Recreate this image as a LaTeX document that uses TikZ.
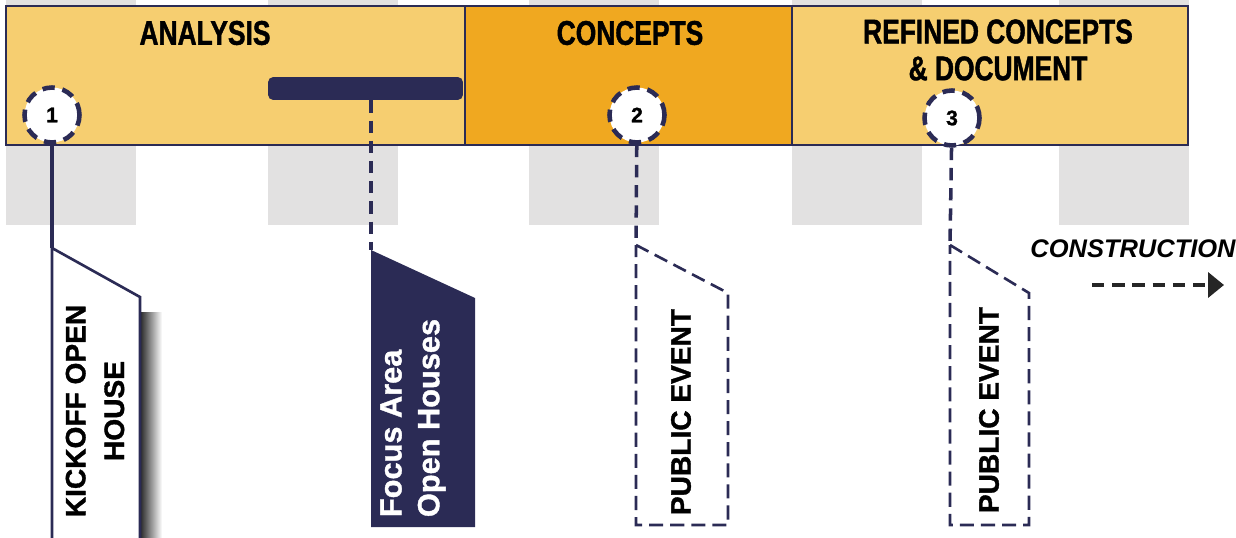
\documentclass[tikz,border=0pt]{standalone}
\usepackage{fontspec}
\setmainfont{Liberation Sans}[BoldFeatures={FakeBold=1.2}]
\newfontfamily\condfont{Liberation Sans}[FakeStretch=0.77, BoldFeatures={FakeBold=1.2}]
\usepackage{tikz}
\usetikzlibrary{arrows.meta, positioning}

\definecolor{sand}{RGB}{246,206,112}
\definecolor{amber}{RGB}{240,168,32}
\definecolor{navy}{RGB}{43,43,85}
\definecolor{fog}{RGB}{226,225,225}

\begin{document}
\begin{tikzpicture}[x=0.02cm, y=-0.02cm]
\tikzstyle{phase}=[font=\condfont\bfseries\fontsize{19.5}{21}\selectfont, align=center, text=black]
\tikzstyle{stop}=[circle, draw=navy, fill=white, line width=2.6pt, dash pattern=on 7pt off 4.5pt,
  minimum size=1.1cm, inner sep=0pt, font=\bfseries\fontsize{12}{13}\selectfont]
\tikzstyle{lead}=[navy, line width=2pt, dash pattern=on 7pt off 4.5pt]
\tikzstyle{edgeline}=[navy, line width=1.5pt, dash pattern=on 8pt off 4pt]
\tikzstyle{flagtext}=[rotate=90, font=\bfseries\fontsize{16}{22}\selectfont, align=center, inner sep=0pt]
\useasboundingbox (0,0) rectangle (1236,537);

% grey columns behind the band
\foreach \x in {6, 268, 529, 792, 1059}
  \fill[fog] (\x,0) rectangle ++(130,225);

% phase band
\fill[sand] (6,6) rectangle (465,145);
\fill[amber] (465,6) rectangle (792,145);
\fill[sand] (792,6) rectangle (1188,145);
\draw[navy, line width=1.1pt] (6,6) rectangle (1188,145);
\draw[navy, line width=1.1pt] (465,6) -- (465,145) (792,6) -- (792,145);

\node[phase] (analysis) at (205,33) {ANALYSIS};
\node[phase] (concepts) at (630,33) {CONCEPTS};
\node[phase] (refined) at (998,50) {REFINED CONCEPTS\\\& DOCUMENT};

\node[fill=navy, rounded corners=3pt, minimum width=3.9cm, minimum height=0.46cm, inner sep=0pt] (bar) at (365.5,88.5) {};

\node[stop] (c1) at (52,115) {1};
\node[stop] (c2) at (637,115) {2};
\node[stop] (c3) at (952,118) {3};

% flags
\coordinate (f1) at (52,248);
\coordinate (f2) at (371,250);
\coordinate (f3) at (636,245);
\coordinate (f4) at (950,245);

\shade[left color=black!85, right color=white] (140,312) rectangle (162,540);
\filldraw[fill=white, draw=navy, line width=1.5pt] (f1) -- (140,297) -- (140,545) -- (52,545) -- cycle;
\fill[navy] (f2) -- (475,298) -- (475,527) -- (371,527) -- cycle;
\draw[edgeline] (f3) -- (728,293) -- (728,525) -- (636,525) -- cycle;
\draw[edgeline] (f4) -- (1029,293) -- (1029,525) -- (950,525) -- cycle;

\node[flagtext] (kickoff) at (95,411) {KICKOFF OPEN\\HOUSE};
\node[flagtext, text=white, align=left, font=\bfseries\fontsize{17.5}{21.5}\selectfont] (focus) at (413,418) {Focus Area\\Open Houses};
\node[flagtext] (event1) at (681,412) {PUBLIC EVENT};
\node[flagtext] (event2) at (989,410) {PUBLIC EVENT};

% leads
\draw[navy, line width=2pt] (c1) -- (f1);
\draw[lead] (f2 |- bar.south) -- (f2);
\draw[lead] (c2) -- (f3);
\draw[lead] (c3) -- (f4);

% construction
\node[font=\itshape\bfseries\fontsize{14.5}{16}\selectfont] (construction) at (1133,249) {CONSTRUCTION};
\coordinate (a0) at (1092,285);
\coordinate (a1) at (1224,285);
\draw[black!85, line width=2.4pt, dash pattern=on 7pt off 4.5pt, -{Triangle[length=9pt, width=14pt]}] (a0) -- (a1);
\end{tikzpicture}
\end{document}
